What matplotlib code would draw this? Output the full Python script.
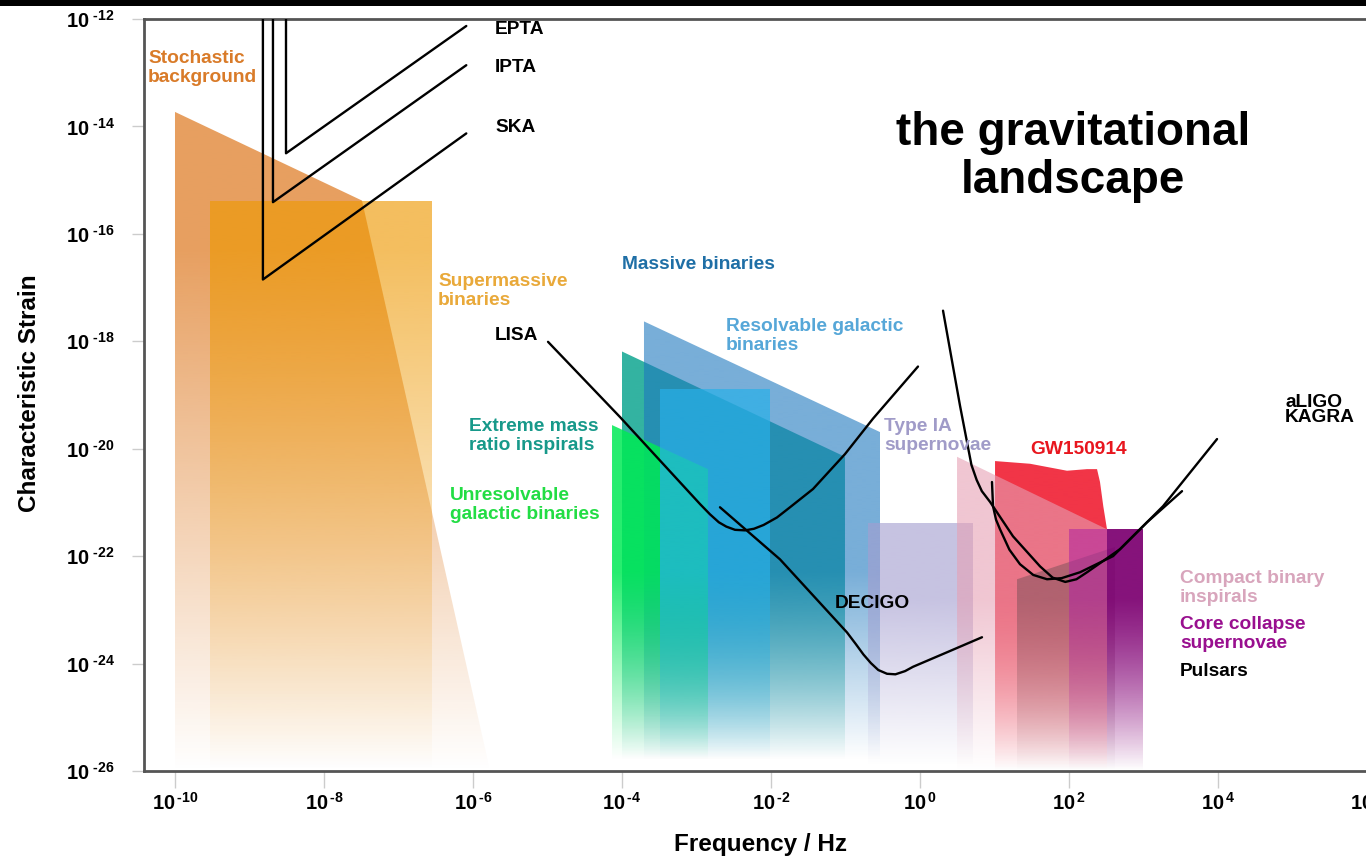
import numpy as np
import matplotlib
matplotlib.use('Agg')
import matplotlib.pyplot as plt
from matplotlib.patches import Polygon, Rectangle
from matplotlib.colors import to_rgb

plt.rcParams['font.family'] = ['Liberation Sans', 'DejaVu Sans']
plt.rcParams['font.weight'] = 'bold'
plt.rcParams['mathtext.fontset'] = 'custom'
plt.rcParams['mathtext.rm'] = 'Liberation Sans:bold'
plt.rcParams['mathtext.it'] = 'Liberation Sans:bold'
plt.rcParams['mathtext.bf'] = 'Liberation Sans:bold'

# ---------------- data (log10 of frequency [Hz] and characteristic strain) -------------
xtick_exp = [-10, -8, -6, -4, -2, 0, 2, 4, 6]
ytick_exp = [-12, -14, -16, -18, -20, -22, -24, -26]

# source regions
stoch_x = [-10.0, -7.49, -5.77, -10.0]
stoch_y = [-13.73, -15.38, -26.0, -26.0]
smbh_x = [-9.53, -6.55, -6.55, -9.53]
smbh_y = [-15.38, -15.38, -26.0, -26.0]
emri_x = [-4.0, -1.007, -1.007, -4.0]
emri_y = [-18.19, -20.15, -26.0, -26.0]
massive_x = [-3.705, -0.537, -0.537, -3.705]
massive_y = [-17.63, -19.69, -26.0, -26.0]
unres_x = [-4.134, -2.846, -2.846, -4.134]
unres_y = [-19.56, -20.38, -26.0, -26.0]
resolv_x = [-3.49, -2.013, -2.013, -3.49]
resolv_y = [-18.88, -18.88, -26.0, -26.0]
typeia_x = [-0.698, 0.711, 0.711, -0.698]
typeia_y = [-21.38, -21.38, -26.0, -26.0]
gw_x = [1.007, 1.477, 1.973, 2.242, 2.376, 2.416, 2.46, 2.51, 2.51, 1.007]
gw_y = [-20.23, -20.28, -20.41, -20.38, -20.38, -20.62, -21.07, -21.50, -26.0, -26.0]
cbc_x = [0.497, 2.51, 2.51, 0.497]
cbc_y = [-20.15, -21.50, -26.0, -26.0]
pulsar_x = [1.302, 2.617, 2.617, 1.302]
pulsar_y = [-22.43, -21.83, -26.0, -26.0]
ccsn_x = [2.0, 2.993, 2.993, 2.0]
ccsn_y = [-21.50, -21.50, -26.0, -26.0]
ccsn_dark_x = [2.51, 2.993, 2.993, 2.51]
ccsn_dark_y = [-21.50, -21.50, -26.0, -26.0]

# detector sensitivity curves
epta_x = [-8.51, -8.51, -6.09]
epta_y = [-11.5, -14.50, -12.13]
ipta_x = [-8.685, -8.685, -6.09]
ipta_y = [-11.5, -15.41, -12.86]
ska_x = [-8.82, -8.82, -6.09]
ska_y = [-11.5, -16.85, -14.13]
lisa_x = [-4.993, -4.027, -2.953, -2.820, -2.700, -2.600, -2.483, -2.349, -2.228, -2.100,
          -1.920, -1.745, -1.436, -1.007, -0.631, -0.027]
lisa_y = [-18.01, -19.41, -21.03, -21.22, -21.37, -21.45, -21.51, -21.52, -21.49, -21.42,
          -21.28, -21.09, -20.75, -20.10, -19.44, -18.47]
decigo_x = [-2.685, -1.879, -0.980, -0.860, -0.760, -0.660, -0.560, -0.443, -0.330, -0.200,
            -0.094, 0.362, 0.832]
decigo_y = [-21.09, -22.06, -23.42, -23.64, -23.83, -23.99, -24.12, -24.19, -24.20, -24.14,
            -24.06, -23.79, -23.51]
aligo_x = [0.309, 0.537, 0.690, 0.760, 0.830, 0.940, 1.248, 1.611, 1.780, 1.950, 2.100,
           2.242, 2.685, 3.262, 3.987]
aligo_y = [-17.43, -19.20, -20.30, -20.58, -20.79, -20.99, -21.63, -22.19, -22.40, -22.48,
           -22.43, -22.30, -21.87, -21.07, -19.82]
kagra_x = [0.966, 0.980, 1.020, 1.074, 1.200, 1.342, 1.520, 1.705, 1.900, 2.148, 2.591,
           3.047, 3.517]
kagra_y = [-20.62, -21.07, -21.32, -21.50, -21.88, -22.15, -22.35, -22.43, -22.41, -22.30,
           -22.00, -21.37, -20.79]

# ---------------- figure -------------
W, H = 1366, 859
fig = plt.figure(figsize=(W / 100, H / 100), dpi=100)
fig.patch.set_facecolor('white')
ax = fig.add_axes([144 / W, (H - 771) / H, (1403 - 144) / W, (771 - 19) / H])
ax.set_xscale('log')
ax.set_yscale('log')
ax.set_xlim(10 ** -10.416, 10 ** 6.483)
ax.set_ylim(1e-26, 1e-12)
ax.set_autoscale_on(False)

YLO, YHI = -26.0, -12.0


def grad_poly(xs, ys, color, alpha, full, zero, z):
    verts = np.column_stack([10 ** np.asarray(xs, float), 10 ** np.asarray(ys, float)])
    poly = Polygon(verts, closed=True, transform=ax.transData)
    n = 700
    L = np.linspace(YLO, YHI, n)
    a = alpha * np.clip((L - zero) / (full - zero), 0, 1)
    img = np.zeros((n, 1, 4))
    img[..., :3] = to_rgb(color)
    img[:, 0, 3] = a
    im = ax.imshow(img, extent=[0, 1, 0, 1], transform=ax.transAxes, origin='lower',
                   aspect='auto', interpolation='bilinear', zorder=z)
    im.set_clip_path(poly)


# orange (PTA band)
grad_poly(stoch_x, stoch_y, '#DE7A22', 0.72, -16.3, -26.0, 1)
grad_poly(smbh_x, smbh_y, '#EE9A05', 0.64, -16.3, -26.0, 2)
# LISA band
grad_poly(emri_x, emri_y, '#00A08A', 0.80, -22.3, -25.8, 3)
grad_poly(massive_x, massive_y, '#1E78BE', 0.60, -22.3, -25.8, 4)
grad_poly(unres_x, unres_y, '#00EA55', 0.85, -22.3, -25.8, 5)
grad_poly(resolv_x, resolv_y, '#28B0E8', 0.70, -22.3, -25.8, 6)
# ground band
grad_poly(typeia_x, typeia_y, '#A49ED0', 0.62, -22.8, -25.9, 7)
grad_poly(gw_x, gw_y, '#F01E32', 0.90, -22.8, -26.0, 8)
grad_poly(cbc_x, cbc_y, '#E6A0B4', 0.60, -22.8, -26.0, 9)
grad_poly(pulsar_x, pulsar_y, '#785058', 0.50, -22.8, -26.0, 10)
grad_poly(ccsn_x, ccsn_y, '#B42AA0', 0.60, -22.8, -26.0, 11)
grad_poly(ccsn_dark_x, ccsn_dark_y, '#78006E', 0.85, -22.8, -26.0, 12)

# sensitivity curves
for xs, ys in [(epta_x, epta_y), (ipta_x, ipta_y), (ska_x, ska_y), (lisa_x, lisa_y),
               (decigo_x, decigo_y), (aligo_x, aligo_y), (kagra_x, kagra_y)]:
    ax.plot(10 ** np.asarray(xs), 10 ** np.asarray(ys), color='black', lw=1.7,
            zorder=20, solid_joinstyle='round', solid_capstyle='round')

# ticks / spines
ax.minorticks_off()
ax.set_xticks([10.0 ** e for e in xtick_exp])
ax.set_xticklabels([r'$10^{\,\text{%d}}$' % e for e in xtick_exp])
ax.set_yticks([10.0 ** e for e in ytick_exp])
ax.set_yticklabels([r'$10^{\ \text{%d}}$' % e for e in ytick_exp])
ax.tick_params(axis='x', which='major', direction='out', length=12, width=1,
               color='#cccccc', labelsize=14.5, pad=3)
ax.tick_params(axis='y', which='major', direction='out', length=9, width=1,
               color='#cccccc', labelsize=14.5, pad=12)
for s in ax.spines.values():
    s.set_color('#555555')
    s.set_linewidth(2)

# ---------------- text -------------
def ftext(x, y, s, color='black', size=13.8, ha='left', va='center', ls=1.15, **kw):
    fig.text(x / W, 1 - y / H, s, color=color, fontsize=size, fontweight='bold',
             ha=ha, va=va, linespacing=ls, **kw)


ftext(148, 68, 'Stochastic\nbackground', '#D97B29')
ftext(495, 30, 'EPTA')
ftext(495, 68, 'IPTA')
ftext(495, 128, 'SKA')
ftext(438, 291, 'Supermassive\nbinaries', '#E9A93A')
ftext(495, 336, 'LISA')
ftext(622, 265, 'Massive binaries', '#1F6FA6')
ftext(726, 336, 'Resolvable galactic\nbinaries', '#56A7D8')
ftext(469, 436, 'Extreme mass\nratio inspirals', '#17998A')
ftext(450, 505, 'Unresolvable\ngalactic binaries', '#22DD44')
ftext(884, 436, 'Type IA\nsupernovae', '#A09BC8')
ftext(1030, 450, 'GW150914', '#E8161E')
ftext(1285, 410, 'aLIGO\nKAGRA', 'black', ls=0.8)
ftext(835, 604, 'DECIGO')
ftext(1180, 588, 'Compact binary\ninspirals', '#D8A5BC')
ftext(1180, 634, 'Core collapse\nsupernovae', '#990F8F')
ftext(1180, 671, 'Pulsars')
ftext(1073, 157, 'the gravitational\nlandscape', 'black', size=33, ha='center', ls=1.1)

ftext(30, 393, 'Characteristic Strain', size=17.5, ha='center', rotation=90)
ftext(760, 845, 'Frequency / Hz', size=17.5, ha='center')

# slide top strip
fig.patches.append(Rectangle((0, 1 - 6 / H), 1, 6 / H, transform=fig.transFigure,
                             facecolor='black', edgecolor='none', zorder=0))

fig.savefig('out.png', dpi=100)
